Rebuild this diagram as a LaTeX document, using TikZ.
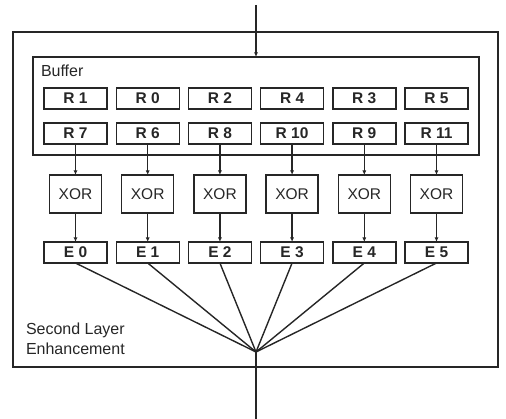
\documentclass[tikz,border=0pt]{standalone}
\usepackage{fontspec}
\setmainfont{Liberation Sans}
\usetikzlibrary{arrows.meta}
\begin{document}
\begin{tikzpicture}[x=1pt,y=-1pt,
  every node/.style={inner sep=0pt, outer sep=0pt},
  line/.style={draw=black!85, line width=1.4pt},
  reg/.style={line, minimum width=63pt, minimum height=21pt, font=\fontsize{15.5}{18}\selectfont\bfseries, text=black!85},
  xorbox/.style={line, minimum width=52pt, minimum height=38pt, font=\fontsize{15.5}{18}\selectfont, text=black!85},
  lbl/.style={font=\fontsize{16}{20}\selectfont, text=black!85, anchor=base west},
  arr/.style={line, -{Latex[length=4.5pt,width=4pt]}}
]
\useasboundingbox (0,0) rectangle (506,419);
\node[line, minimum width=485pt, minimum height=335pt] (outer) at (255.5,199.5) {};
\node[line, minimum width=446pt, minimum height=98pt] (buffer) at (256,106) {};
\node[lbl] (bufl) at (41,77) {Buffer};
\node[lbl] (sl1) at (26,335) {Second Layer};
\node[lbl] (sl2) at (26,355) {Enhancement};
\coordinate (in) at (256,5);
\coordinate (m) at (256,352);
\coordinate (out) at (256,419);
\draw[arr] (in) -- (buffer.north);
\foreach \lab [count=\i from 0] in {R 1,R 0,R 2,R 4,R 3,R 5}
  \node[reg] (ra\i) at ({75.5+72.2*\i},98.5) {\lab};
\foreach \lab [count=\i from 0] in {R 7,R 6,R 8,R 10,R 9,R 11}
  \node[reg] (rb\i) at ({75.5+72.2*\i},133.5) {\lab};
\foreach \i in {0,...,5}{
  \node[xorbox] (x\i) at ({75.5+72.2*\i},194) {XOR};
  \node[reg] (e\i) at ({75.5+72.2*\i},252.5) {E \i};
  \draw[arr] (rb\i) -- (x\i);
  \draw[arr] (x\i) -- (e\i);
  \draw[line] (e\i.south) -- (m);
}
\draw[line] (m) -- (out);
\end{tikzpicture}
\end{document}
